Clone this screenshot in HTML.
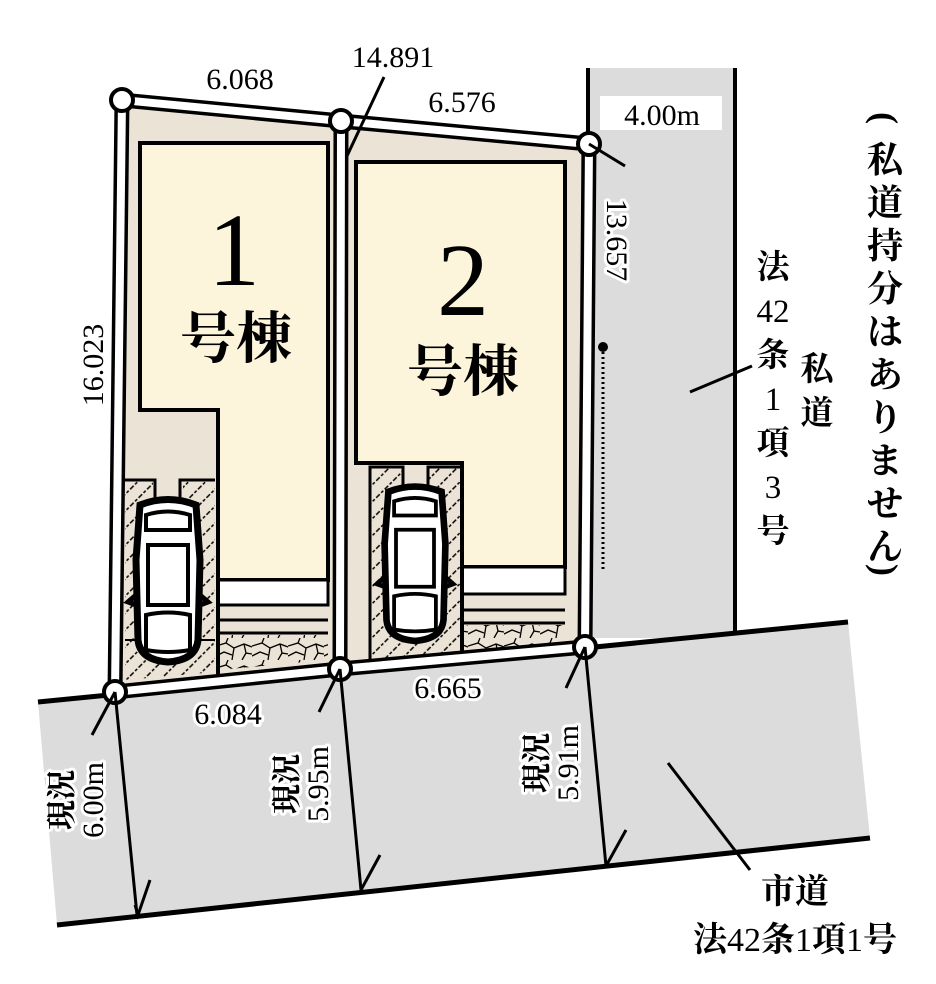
<!DOCTYPE html>
<html><head><meta charset="utf-8"><style>
html,body{margin:0;padding:0;background:#fff;}
svg{display:block;}
text{font-family:"Liberation Serif","Noto Serif CJK SC",serif;fill:#000;}
.h{paint-order:stroke;stroke:#fff;stroke-width:6px;stroke-linejoin:round;}
.b{font-weight:bold;}
.n{font-weight:normal;}
</style></head><body>
<svg width="936" height="984" viewBox="0 0 936 984" xmlns="http://www.w3.org/2000/svg">
<defs>
<pattern id="hatch" width="12" height="12" patternUnits="userSpaceOnUse" patternTransform="rotate(-45)">
<rect width="12" height="12" fill="#ebe3d6"/>
<line x1="0" y1="6" x2="12" y2="6" stroke="#000" stroke-width="1.5" stroke-dasharray="3 2"/>
</pattern>
<pattern id="stone" width="36" height="22" patternUnits="userSpaceOnUse">
<rect width="36" height="22" fill="#ebe3d6"/>
<path d="M0 8 L10 5 L18 10 L28 6 L36 9 M10 5 L12 0 M18 10 L16 22 M28 6 L30 15 L36 16 M0 18 L8 14 L16 17 M30 15 L26 22" stroke="#000" stroke-width="1.3" fill="none"/>
</pattern>
</defs>

<rect x="588" y="68" width="147" height="570" fill="#dcdcdc"/>
<line x1="735" y1="68" x2="735" y2="632" stroke="#000" stroke-width="4"/>
<line x1="588" y1="68" x2="588" y2="140" stroke="#000" stroke-width="4"/>
<rect x="600" y="96" width="122" height="34" fill="#fff"/>
<polygon points="38,702 848,622 870,838 57,925" fill="#dcdcdc"/>
<line x1="38" y1="702" x2="848" y2="622" stroke="#000" stroke-width="5"/>
<line x1="57" y1="925" x2="870" y2="838" stroke="#000" stroke-width="5"/>

<polygon points="122,100 341,121 340,669 115,692" fill="#ebe3d6"/>
<polygon points="341,121 589,144 585,647 340,669" fill="#ebe3d6"/>

<polygon points="140,143 328,143 328,580 218,580 218,410 140,410" fill="#fdf4dc" stroke="#000" stroke-width="4"/>
<rect x="218" y="580" width="110" height="25" fill="#fff" stroke="#000" stroke-width="3"/>
<line x1="218" y1="620" x2="328" y2="620" stroke="#000" stroke-width="3"/>
<line x1="218" y1="633" x2="328" y2="633" stroke="#000" stroke-width="3"/>
<polygon points="218,635 328,635 328,660 218,670" fill="url(#stone)"/>
<line x1="218" y1="580" x2="218" y2="675" stroke="#000" stroke-width="4"/>
<polygon points="125,480 215,480 215,672 125,680" fill="url(#hatch)"/>
<rect x="153" y="478" width="30" height="30" fill="#ebe3d6"/>
<path d="M125,480 H155 V505 M180,505 V480 H215" stroke="#000" stroke-width="3" fill="none"/>
<line x1="125" y1="640" x2="215" y2="640" stroke="#000" stroke-width="2"/>

<polygon points="356,162 565,162 565,567 462,567 462,463 356,463" fill="#fdf4dc" stroke="#000" stroke-width="4"/>
<rect x="462" y="567" width="103" height="27" fill="#fff" stroke="#000" stroke-width="3"/>
<line x1="462" y1="610" x2="565" y2="610" stroke="#000" stroke-width="3"/>
<line x1="462" y1="623" x2="565" y2="623" stroke="#000" stroke-width="3"/>
<polygon points="462,625 565,625 565,645 462,655" fill="url(#stone)"/>
<line x1="462" y1="463" x2="462" y2="660" stroke="#000" stroke-width="4"/>
<polygon points="370,467 460,467 460,655 370,660" fill="url(#hatch)"/>
<rect x="402" y="466" width="26" height="30" fill="#ebe3d6"/>
<path d="M370,660 V467 H403 V492 M428,492 V467 H460" stroke="#000" stroke-width="3" fill="none"/>

<g transform="translate(168,580)">
<path d="M-28,-75 Q0,-86 28,-75 L32,-20 L30,60 Q28,80 0,82 Q-28,80 -30,60 L-32,-20 Z" fill="#fff" stroke="#000" stroke-width="7"/>
<path d="M-22,-65 Q0,-72 22,-65 L22,-50 L-22,-50 Z M-20,-35 H20 V25 H-20 Z M-22,35 Q0,30 22,35 L22,70 Q0,74 -22,70 Z" fill="#fff" stroke="#000" stroke-width="4"/>
<path d="M-32,15 L-40,22 L-32,25 M32,15 L40,22 L32,25" stroke="#000" stroke-width="5" fill="none"/>
</g>
<g transform="translate(415,563) scale(0.95)">
<path d="M-28,-75 Q0,-86 28,-75 L32,-20 L30,60 Q28,80 0,82 Q-28,80 -30,60 L-32,-20 Z" fill="#fff" stroke="#000" stroke-width="7"/>
<path d="M-22,-65 Q0,-72 22,-65 L22,-50 L-22,-50 Z M-20,-35 H20 V25 H-20 Z M-22,35 Q0,30 22,35 L22,70 Q0,74 -22,70 Z" fill="#fff" stroke="#000" stroke-width="4"/>
<path d="M-32,15 L-40,22 L-32,25 M32,15 L40,22 L32,25" stroke="#000" stroke-width="5" fill="none"/>
</g>

<g fill="none" stroke-linejoin="round">
<path d="M122,100 L341,121 L589,144 L585,647 L340,669 L115,692 Z M341,121 L340,669" stroke="#000" stroke-width="15"/>
<path d="M122,100 L341,121 L589,144 L585,647 L340,669 L115,692 Z M341,121 L340,669" stroke="#fff" stroke-width="8"/>
</g>
<g fill="#fff" stroke="#000" stroke-width="4">
<circle cx="122" cy="100" r="11"/><circle cx="341" cy="121" r="11"/><circle cx="589" cy="144" r="11"/>
<circle cx="585" cy="647" r="11"/><circle cx="340" cy="669" r="11"/><circle cx="115" cy="692" r="11"/>
</g>

<g stroke="#000" stroke-width="3" fill="none">
<line x1="384" y1="77" x2="347" y2="156"/>
<line x1="589" y1="144" x2="625" y2="166"/>
<line x1="690" y1="392" x2="752" y2="366"/>
<line x1="668" y1="763" x2="750" y2="870"/>
<line x1="115" y1="692" x2="92" y2="735"/>
<line x1="115" y1="692" x2="137" y2="915"/>
<path d="M135,905 L138,915 L150,880"/>
<line x1="340" y1="669" x2="319" y2="712"/>
<line x1="340" y1="669" x2="361" y2="890"/>
<path d="M361,890 L380,855"/>
<line x1="585" y1="647" x2="566" y2="688"/>
<line x1="585" y1="647" x2="606" y2="866"/>
<path d="M606,866 L626,830"/>
<line x1="603" y1="347" x2="603" y2="572" stroke-dasharray="2 3"/>
</g>
<circle cx="603" cy="347" r="5" fill="#000"/>

<g font-size="30">
<text x="240" y="89" text-anchor="middle" class="h">6.068</text>
<text x="393" y="67" text-anchor="middle" class="h">14.891</text>
<text x="462" y="112" text-anchor="middle" class="h">6.576</text>
<text x="662" y="125" text-anchor="middle">4.00m</text>
<text x="228" y="724" text-anchor="middle" class="h">6.084</text>
<text x="448" y="698" text-anchor="middle" class="h">6.665</text>
<text transform="translate(607,240) rotate(90)" text-anchor="middle" class="h">13.657</text>
<text transform="translate(103,365) rotate(-90)" text-anchor="middle" class="h">16.023</text>
<g class="h" text-anchor="middle">
<text class="b" transform="translate(72,800) rotate(-90)">現況</text>
<text transform="translate(103,800) rotate(-90)">6.00m</text>
<text class="b" transform="translate(297,784) rotate(-90)">現況</text>
<text transform="translate(328,784) rotate(-90)">5.95m</text>
<text class="b" transform="translate(547,763) rotate(-90)">現況</text>
<text transform="translate(578,763) rotate(-90)">5.91m</text>
</g>
</g>
<g font-size="34" text-anchor="middle" class="b">
<text x="795" y="903">市道</text>
<text x="795" y="951">法<tspan class="n">42</tspan>条<tspan class="n">1</tspan>項<tspan class="n">1</tspan>号</text>
</g>
<g font-size="33" text-anchor="middle" class="b">
<text x="773" y="278">法</text>
<text x="773" y="322" class="n">42</text>
<text x="773" y="366">条</text>
<text x="773" y="410" class="n">1</text>
<text x="773" y="454">項</text>
<text x="773" y="498" class="n">3</text>
<text x="773" y="542">号</text>
<text x="817" y="380">私</text>
<text x="817" y="424">道</text>
</g>
<g font-size="36" text-anchor="middle" class="b">
<text x="885" y="130" transform="rotate(90 885 118)">(</text>
<text x="885" y="172">私</text>
<text x="885" y="215">道</text>
<text x="885" y="258">持</text>
<text x="885" y="301">分</text>
<text x="885" y="344">は</text>
<text x="885" y="387">あ</text>
<text x="885" y="430">り</text>
<text x="885" y="473">ま</text>
<text x="885" y="516">せ</text>
<text x="885" y="559">ん</text>
<text x="885" y="582" transform="rotate(90 885 570)">)</text>
</g>
<g text-anchor="middle">
<text x="234" y="285" font-size="104">1</text>
<text x="236" y="358" font-size="56" class="b">号棟</text>
<text x="463" y="315" font-size="104">2</text>
<text x="463" y="391" font-size="56" class="b">号棟</text>
</g>
</svg>
</body></html>
